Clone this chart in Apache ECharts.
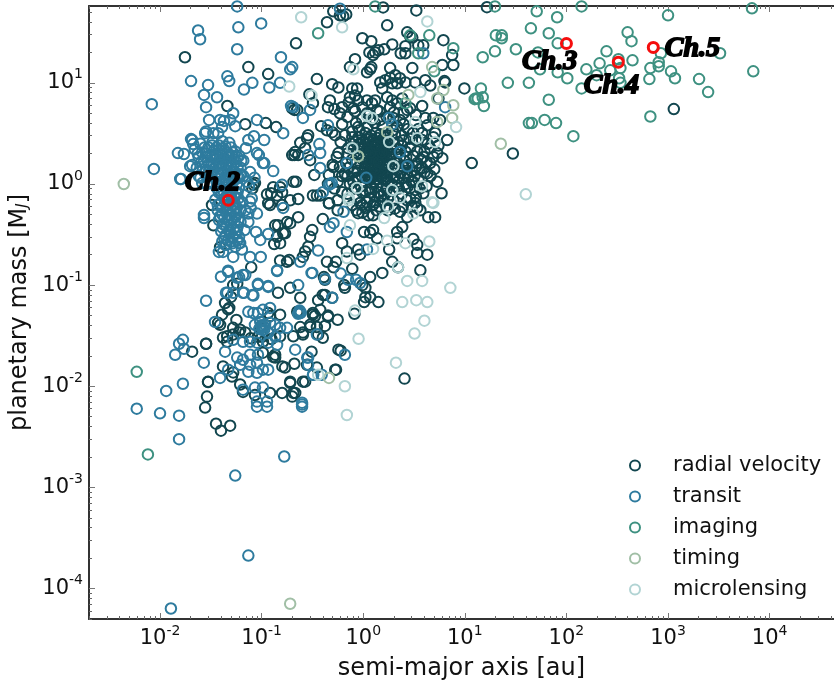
<!DOCTYPE html>
<html>
<head>
<meta charset="utf-8">
<title>Exoplanets by detection method</title>
<script src="https://cdn.jsdelivr.net/npm/echarts@6/dist/echarts.min.js"></script>
<style>
  html, body { margin: 0; padding: 0; background: #fff; }
  #chart { width: 834px; height: 681px; }
</style>
</head>
<body>
<div id="chart"></div>
<script>
// [semi-major axis in au, planetary mass in M_J]
const radialVelocity = [
  [.507,50.9],[.59,46.5],[.68,47.5],[.635,45.5],[.44,39.7],[1.57,55.7],[3.33,52],[1.72,37],[.218,24.6],[.98,27.6],
  [1.2,25.8],[2.71,31.6],[2.9,28.8],[3.04,28],[6.15,26.4],[1.93,24],[2.6,23],[3.9,23.5],[3.48,23.5],[2.34,19.6],
  [2.6,19.6],[1.15,20],[1.31,20],[1.41,21],[1.61,21.5],[1.25,18.8],[.83,17.1],[.74,14.3],[1.09,12.7],[1.17,13.6],
  [1.2,14.3],[1.84,14],[3.04,14],[6,15],[7.7,15],[7.5,18.8],[9.9,8.8],[6.3,10.4],[.35,10.9],[.495,9.7],
  [.57,9],[.295,7.7],[.32,6.3],[.224,5.4],[.2,5.6],[.47,6.7],[.45,5.75],[.52,5.5],[.62,5.75],[.59,5],
  [.21,1.93],[.24,2.55],[.287,3.04],[.28,2.84],[.385,3.73],[.44,3.4],[.495,3.25],[.53,3.04],[.3,1.72],[.268,2.26],
  [.57,2.02],[.33,1.23],[.218,1.05],[.229,.71],[.32,.77],[.35,.77],[.377,.77],[.46,.645],[.56,.69],[.62,.83],
  [.51,1.47],[.46,1.23],[11.7,1.61],[6.7,2.72],[5.9,.81],[5.35,1.05],[4.27,1.28],[5.35,2.02],[4.9,1.85],[.85,4],
  [.78,8.8],[.87,8.8],[.74,7.2],[.83,7.5],[.89,6.7],[.72,6.4],[1.09,6.7],[1.22,6.3],[1.31,6.7],[1.47,10.1],
  [1.65,10.6],[1.84,11.2],[2.07,11.9],[2.3,11.1],[2.6,10.1],[2.16,9.9],[1.93,9.9],[1.54,8.8],[1.72,7.2],[1.93,6.7],
  [2.16,6.3],[2.42,7],[3.25,10.1],[4.08,10.6],[4.57,9.4],[3.8,5.9],[5.5,7],[6.4,10.1],[4.08,4.5],[2.71,5.4],
  [1.84,5.75],[1.37,5.4],[1.09,5],[.98,5.75],[.83,5.25],[1.22,4.3],[1.98,4.5],[1.47,4.3],[2.3,4.3],[4.9,4.5],
  [4.27,3.8],[5.7,4.3],[3.8,2.72],[5.1,3.2],[4.57,2.26],[3.9,1.85],[3.4,1.61],[4.57,1.61],[3.8,1.44],[3.11,1.05],
  [2.78,1.17],[2.48,1.47],[2.3,1.28],[1.98,1.17],[1.76,1.05],[2.16,.93],[2.71,.93],[3.25,.87],[3.9,.81],[2.71,.69],
  [1.98,.69],[1.57,.69],[1.31,.66],[1.09,.66],[.93,.65],[.98,.83],[1.17,.83],[1.41,.83],[.8,1.05],[.66,1.28],
  [.59,1.47],[.71,2.26],[.66,3.04],[.78,2.9],[.89,3.65],[1.05,3.2],
  // densest part of the cloud around 1 au
  [1.02,1.3],[1.06,1.6],[1.1,1.9],[1.14,2.3],[1.18,1.45],[1.22,1.75],[1.26,2.05],[1.3,2.5],[1.34,1.25],[1.38,1.6],
  [1.42,1.9],[1.46,2.2],[1.5,2.7],[1.55,1.4],[1.6,1.7],[1.65,2],[1.7,2.4],[1.75,1.3],[1.8,1.55],[1.08,2.75],
  [1.2,3],[1.33,3.2],[1.47,3.1],[1.62,2.9],[1.05,1.15],[1.15,1.1],[1.28,1.05],[1.4,1.12],[1.52,1.18],[1.68,1.12],
  [1.85,1.85],[1.9,2.2],[1.12,1.55],[1.24,1.3],[1.36,2.15],[1.44,1.35],[1.58,2.3],[1.72,1.75],[.98,1.75],[.95,2.2],
  [1,2.6],[1.28,1.75],[1.4,2.5],[1.56,1.55],[1.25,1.55],[1.35,1.85],[1.48,1.7],[1.18,2.6],[1.1,1.25],[1.62,1.28],
  [1.04,1.45],[1.08,1.8],[1.12,2.1],[1.16,1.3],[1.2,1.6],[1.24,1.95],[1.28,2.3],[1.32,1.45],[1.36,1.7],[1.4,2.05],
  [1.44,1.55],[1.48,1.95],[1.52,2.35],[1.56,1.8],[1.6,2.15],[1.64,1.5],[1.68,1.85],[1.72,2.15],[1.76,1.5],[1.8,2],
  [1.1,2.5],[1.15,2.85],[1.25,2.7],[1.38,2.85],[1.55,2.6],[1.66,2.65],[1.78,2.7],[1.06,2.05],[1.02,2.3],[1.14,1.18],
  [1.22,1.15],[1.34,1.12],[1.46,1.22],[1.58,1.12],[1.72,1.18],[1.3,1.4],[1.42,1.65],[1.52,2.05],[1.18,2.05],[1.34,2.35],
  [.74,1],[.8,1.3],[.85,1.6],[.9,1.15],[.78,1.75],[.88,2],[.92,2.5],[.7,1.2],[.68,1.6],[.82,.92],
  [.95,.95],[1.05,.85],[1.2,.9],[1.35,.95],[1.55,.95],[1.7,.88],[1.9,1],[2.05,1.2],[2.2,1.05],[2.35,1.3],
  [2.5,1.15],[2.7,1.3],[1.95,1.4],[2.1,1.6],[2.3,1.85],[2.55,1.7],[2.8,1.55],[3,1.35],[3.2,1.2],[2,2.5],
  [2.15,2.2],[2.4,2.4],[2.6,2.1],[2.9,2.3],[3.1,1.9],[3.4,2.1],[3.7,1.75],[1.75,3],[1.95,3.4],[2.15,3.7],
  [2.4,3],[2.75,3.5],[3.1,3.2],[3.5,3.5],[1.55,3.7],[1.3,4],[1.1,3.7],[.92,3.4],[.78,3.3],[.98,4.4],
  [1.15,4.9],[1.45,5.2],[1.7,4.6],[2,5.1],[2.5,5],[2.9,5.6],[3.3,4.8],[.8,5.6],[.7,4.6],[.62,3.9],
  [.6,2.6],[.55,1.85],[.5,1.55],[.62,1.2],[.56,1.05],[.45,1],[.52,.9],[3.6,.9],[4.2,.95],[4.6,1.2],
  [5,1.4],[4,1.3],[3.3,.75],[2.9,.72],[2.4,.8],[1.85,.78],[1.5,.76],[1.3,.75],[.86,.72],[.78,.62],
  [.7,.8],[1.15,.72],[4.3,2.5],[4.9,2.9],[3.8,3.2],[5.5,2.4],[6,1.8],
  [.88,1.35],[.94,1.6],[.86,1.15],[.97,1.2],[.72,1.45],[.8,2.2],[.84,2.6],[.76,2.5],[.7,2],[.9,2.9],
  [1.6,.8],[1.75,.72],[2,.86],[2.25,.9],[2.6,1],[3,1.05],[3.5,1.1],[2.2,1.4],[2.45,1.5],[2.65,1.85],
  [3.3,1.5],[3.6,1.4],[2.2,2.6],[2.5,2.7],[2.85,2.8],[3.3,2.7],[4,2.1],[4.2,1.65],[2.05,3.1],[2.5,3.9],
  [1.25,.62],[1.45,.6],[1.75,.55],[2.05,.57],[2.45,.6],[3,.6],[3.4,.58],[.86,.55],[.98,.52],[1.35,.55],
  // close-in and low-mass planets
  [.0176,17.9],[.074,14.3],[.116,12.2],[.046,5.9],[.069,3.9],[.11,4],[.139,3.65],[.2,1.93],[.21,5.4],[.083,.98],
  [.13,.93],[.124,.81],[.159,.83],[.113,.79],[.191,.69],[.121,.62],[.206,1.05],[.086,1.02],[.081,.9],[.0325,.62],
  [.152,.93],[.142,.77],[.116,.645],[.159,.62],[.178,.42],[.145,.39],[.17,.325],[.142,.3],[.152,.26],[.0335,.39],
  [.039,.237],[.214,2.07],[.229,1.93],[.136,.39],[.163,.325],[.133,.255],[.079,.15],[.152,.175],[.178,.17],[.187,.177],
  [.229,.47],[.191,.41],[.315,.35],[.3,.3],[.4,.45],[.56,.55],[.46,.645],[.98,.62],[.89,.515],[1.13,.49],
  [1.25,.49],[1.05,.58],[2.3,.53],[2.71,.47],[3.65,.55],[4.37,.47],[5.1,.47],[3.25,.65],[1.72,.6],[.62,.26],
  [1.02,.335],[1.17,.33],[1.25,.35],[1.37,.29],[2.16,.335],[2.42,.375],[2.16,.29],[3.11,.285],[3.4,.25],[3.4,.208],
  [4.27,.2],[1.8,.225],[1.93,.17],[2.2,.15],[3.65,.14],[1.54,.132],[1.17,.12],[.89,.225],[.93,.2],[.69,.215],
  [.78,.145],[.44,.17],[.54,.17],[.51,.15],[.268,.215],[.255,.19],[.287,.24],[.41,.12],[.42,.113],[.65,.1],
  [.66,.094],[.98,.1],[1.05,.094],[1.05,.076],[1.17,.076],[1.41,.068],[1.02,.068],[.82,.052],[.4,.08],[.36,.071],
  [.56,.0455],[.45,.05],[.42,.0395],[.32,.051],[.377,.057],[.335,.0495],[.3,.0405],[.4,.0302],[.255,.0325],[.31,.022],
  [.28,.0163],[.6,.0225],[.54,.0146],[.35,.0153],[.255,.0111],[.268,.0111],[.191,.0111],[.214,.0086],[.2,.0079],[2.55,.0119],
  [.048,.0595],[.0437,.0665],[.0408,.051],[.0373,.0424],[.0565,.0453],[.0284,.0263],[.0525,.1],[.145,.084],[.191,.094],[.24,.075],
  [.224,.0545],[.42,.08],[.495,.075],[.45,.0485],[.32,.053],[.36,.0325],[.24,.0385],[.255,.034],[.57,.023],[.53,.0146],
  [.191,.0108],[.205,.0086],[.16,.0157],[.17,.0153],[.21,.0167],[.136,.0192],[.0297,.0111],[.051,.0125],[.0525,.0137],[.0417,.0157],
  [.0417,.0303],[.0458,.0275],[.0525,.0378],[.0615,.0362],[.0525,.0325],[.0458,.0312],[.069,.034],[.101,.0308],[.13,.0195],[.152,.0312],
  [.0615,.0104],[.0656,.0088],[.086,.0082],[.121,.0086],[.159,.0086],[.116,.053],[.152,.051],[.121,.0495],[.103,.0275],[.092,.0308],
  [.103,.0215],[.136,.0205],[.205,.0312],[.3,.0385],[.35,.0385],[.05,.0765],[.0468,.0575],[.039,.0405],[.0575,.103],[.116,.034],
  [.097,.0378],[.125,.0293],[.06,.034],[.078,.0298],[.0207,.022],[.0284,.0263],[.029,.0079],[.0278,.00615],[.0297,.011],
  [.0356,.00427],[.049,.00408],[.0398,.00364],[1140,5.5],[29.7,2],[16.5,56]
];

const transit = [
  [.0575,57],[.059,35.4],[.099,38.7],[.0237,33],[.0248,27],[.0575,21.5],[.155,17.9],[.191,13.6],[.0202,10.4],[.0297,9.5],
  [.046,11.6],[.048,10.4],[.081,10],[.067,8.6],[.119,9],[.152,10],[.0271,7.6],[.0364,7.2],[.0284,5.75],[.0083,6.15],
  [.195,5.9],[.0525,5],[.0304,4.3],[.039,4.3],[.0426,4.2],[.049,4.3],[.09,4.3],[.0284,3.3],[.0408,3.65],[.0373,3.18],
  [.055,3.73],[.163,3.18],[.106,2.72],[.084,2.97],[.0202,2.78],[.0212,2.48],[.015,2.02],[.0172,1.98],[.094,1.93],[.106,1.61],
  [.13,1.34],[.0087,1.41],[.0161,1.12],[.0198,1.5],[.074,2.72],[.07,2.26],[.159,.98],[.0278,3.18],[.0335,3.18],[.0207,2.72],
  [.0207,1.54],[.0158,1.12],[.077,1.31],[.09,2.02],[.103,1.61],
  // hot Jupiter clump
  [.022,2.2],[.024,1.85],[.023,1.45],[.025,1.15],[.026,2.05],[.027,1.65],[.0275,1.3],[.029,1],[.03,2.3],[.031,1.9],
  [.03,1.55],[.032,1.2],[.034,2.15],[.035,1.75],[.034,1.4],[.036,1.05],[.038,2.4],[.039,2],[.038,1.6],[.04,1.25],
  [.042,2.25],[.043,1.8],[.042,1.45],[.044,1.1],[.046,2.05],[.047,1.7],[.046,1.35],[.048,1.02],[.05,2.3],[.051,1.9],
  [.05,1.5],[.052,1.2],[.055,2.1],[.056,1.65],[.055,1.3],[.057,1],[.06,1.9],[.062,1.45],[.06,1.15],[.066,1.7],
  [.066,1.2],[.025,2.5],[.033,2.6],[.041,2.65],[.048,2.55],[.028,1.85],[.037,1.3],[.045,1.55],[.053,1.75],[.024,1.2],
  [.0235,2],[.0255,1.65],[.0265,1.4],[.0275,2.3],[.0285,2],[.0295,1.7],[.0305,1.35],[.0315,1.05],[.0325,2.4],[.033,1.95],
  [.0325,1.6],[.0345,1.2],[.036,2.3],[.0365,1.85],[.0355,1.5],[.0375,1.12],[.04,2.15],[.041,1.75],[.04,1.4],[.0425,1.02],
  [.044,2.35],[.045,1.95],[.0445,1.6],[.0455,1.22],[.048,1.85],[.049,1.5],[.048,1.2],[.0505,1.05],[.052,2.05],[.053,1.55],
  [.0525,1.3],[.0545,1.1],[.0575,1.85],[.058,1.45],[.0575,1.2],[.063,1.25],[.063,1.7],[.026,1.02],[.0345,1.85],[.0395,1.55],
  [.036,.92],[.04,.8],[.044,.92],[.048,.85],[.052,.9],[.056,.82],[.06,.92],[.035,.7],[.039,.64],[.043,.72],
  [.047,.62],[.051,.7],[.055,.63],[.059,.72],[.064,.66],[.037,.55],[.041,.5],[.045,.56],[.049,.49],[.053,.54],
  [.057,.5],[.062,.55],[.038,.44],[.042,.4],[.046,.44],[.05,.39],[.054,.42],[.058,.38],[.062,.42],[.04,.34],
  [.044,.31],[.048,.35],[.052,.3],[.056,.33],[.06,.3],[.041,.27],[.045,.25],[.05,.27],[.055,.24],[.06,.26],
  [.038,.82],[.042,.85],[.046,.78],[.05,.8],[.054,.74],[.058,.83],[.037,.62],[.041,.58],[.045,.66],[.049,.58],
  [.053,.62],[.057,.58],[.061,.64],[.039,.48],[.043,.46],[.047,.5],[.051,.45],[.055,.47],[.059,.44],[.041,.37],
  [.045,.38],[.049,.33],[.053,.36],[.057,.35],[.043,.29],[.047,.28],[.052,.26],[.058,.28],
  [.075,.95],[.08,.72],[.069,.55],[.074,.42],[.068,.35],[.072,1.05],[.085,1.15],[.078,.58],
  [.0271,.494],[.0271,.461],[.038,.213],[.0468,.139],[.06,.12],[.069,.126],[.077,.19],[.098,.19],[.142,.14],[.092,.1],
  [.116,.098],[.067,.084],[.083,.079],[.046,.084],[.077,.67],[.074,.51],[.09,.51],[.088,.335],[.097,.28],[.116,.32],
  [.0437,.25],[.0615,.26],[.064,.225],[.0417,.213],[.0525,.19],
  // low-mass clump
  [.0398,.121],[.0284,.07],[.0468,.135],[.0575,.118],[.0656,.126],[.0446,.084],[.0525,.084],[.0656,.084],[.081,.08],[.092,.103],
  [.116,.096],[.229,.1],[.142,.138],[.315,.132],[.074,.0545],[.083,.053],[.092,.053],[.103,.057],[.121,.0595],[.0348,.0433],
  [.097,.0433],[.086,.0405],[.108,.0405],[.121,.0424],[.136,.0405],[.101,.0378],[.116,.0338],[.136,.0308],[.152,.0378],[.178,.0378],
  [.234,.0545],[.24,.053],[.237,.056],[.243,.0535],[.229,.052],[.0656,.0275],[.077,.0275],[.09,.027],[.0525,.0288],[.116,.027],
  [.142,.0257],[.214,.023],[.0437,.022],[.0575,.0192],[.0656,.0183],[.077,.0205],[.092,.0205],[.0615,.0163],[.077,.0163],[.09,.0171],
  [.103,.0146],[.074,.0139],[.09,.0136],[.116,.0146],[.039,.0121],[.027,.0171],[.0468,.0146],[.0656,.00925],[.086,.0097],[.103,.0097],
  [.09,.00705],[.09,.00629],[.113,.00705],[.113,.00629],[.25,.00689],[.25,.00629],[.281,.0192],[.287,.0163],[.322,.013],[.099,.04],
  [.102,.036],[.095,.037],[.105,.039],[.1,.0385],[.106,.0365],
  [.0168,.0288],[.0154,.0263],[.0172,.0235],[.0141,.0205],[.0168,.0106],[.0115,.009],[.0059,.006],[.01,.0054],[.0154,.00512],[.0154,.003],
  [.055,.00131],[.167,.00202],[.074,.000212],[.0128,.0000635],
  [.64,.53],[.51,.41],[.47,.375],[.69,.335],[.36,.22],[.24,.17],[.31,.132],[.42,.115],[.6,.13],[.71,.113],
  [.85,.113],[.495,.075],[1.09,.225],[.66,.0205],[.32,.013],[.39,.013],[.25,.0066],[.35,.0325],[.287,.0192],[.93,.105],
  [.59,54],[3.9,19.6],[.2,14.3],[.205,5.75],[.255,4.5],[.3,5.4],[.45,3.8],[6.4,5.75],[1.8,4.5],[1.93,3.9],
  [2.3,2.07],[2.71,1.5],[.69,1.61],[1.07,1.15],[.37,2.48],[.287,1.93],[.377,2.02],[.377,1.44],[.47,1],[.46,.98],
  [.49,1.02],[.4,.83],[.163,.58]
];

const imaging = [
  [51,50.9],[81,44.5],[141,57],[1000,46.5],[6700,54.5],[44.7,34.6],[67,30.9],[20.2,29.5],[23.1,29.5],[23.1,27.6],
  [82,24.6],[400,31.6],[437,25.8],[248,20.5],[19.8,20.5],[31.8,21.5],[15,17.9],[52.5,20],[850,19.6],[3250,19.6],
  [212,15.6],[447,16.7],[325,17.1],[810,16],[810,14.6],[670,14],[157,13.6],[55,13.6],[82,12.7],[340,14],
  [270,13.3],[1070,13],[6900,13],[1170,11.1],[102,11.1],[655,10.9],[2020,10.9],[330,11.1],[340,10],[141,8.8],
  [198,11.9],[26.5,10],[42.7,10],[14.4,8.8],[2480,8.1],[15,7.2],[13.4,7],[12.5,6.9],[67,6.8],[15.4,5.9],
  [670,4.65],[61,4.3],[42.7,4],[45.7,4],[79,4],[117,2.97],[.36,30.9],[4.47,29.5],[2.9,29.5],[7.7,22],
  [3.48,19.6],[1.31,57],[5,13],[2.6,6.3],[12.8,7],[19.8,57],[.0076,.00212],[.0059,.0139]
];

const timing = [
  [.0044,1],[.191,.0000707],[.46,.0121],[1.72,3.25],[4.77,14.3],[2.78,7.6],[6.15,8.5],[5.35,7],[7.7,6],[7.5,4.5],
  [5.35,4.1],[.89,1.88],[22.6,2.5]
];

const microlensing = [
  [.187,9.2],[.245,44.5],[.62,35.4],[4.27,40.5],[.8,13.6],[.31,7.5],[3.65,8.1],[1.09,4.7],[1.22,4.5],[3.25,4.1],
  [3.4,2.84],[1.8,2.6],[8.2,3.65],[.78,2.26],[1.98,1.5],[5.1,2.6],[.87,.91],[.72,.73],[1.93,.87],[2.3,.73],
  [3.8,.95],[4.77,.66],[1.76,.6],[.72,.69],[1.61,.46],[.74,.39],[1.25,.228],[.69,.185],[1.72,.275],[2.6,.26],
  [4.47,.27],[2.2,.15],[2.71,.11],[3.8,.11],[7.2,.094],[2.42,.068],[3.33,.071],[4.27,.068],[4,.0445],[3.2,.0332],
  [.83,.056],[.9,.0295],[2.1,.0171],[.66,.01],[.69,.0052],[4.9,.65],[3.11,.51],[.36,.013],[39.8,.79]
];

// planets discussed in the later chapters
const chapterNames = ['Ch.2', 'Ch.3', 'Ch.4', 'Ch.5'];
const chapterPlanets = [[.047,.69],[100,24.5],[324,16],[716,22.4]];
const chapterLabelOffsets = [[-37,-25],[-38,11],[-28,16],[18,-6]];

const xDecades = [-2, -1, 0, 1, 2, 3, 4];
const yDecades = [-4, -3, -2, -1, 0, 1];

const methods = [
  { name: 'radial velocity', data: radialVelocity, color: '#12464f' },
  { name: 'transit', data: transit, color: '#2e7b9e' },
  { name: 'imaging', data: imaging, color: '#3e9181' },
  { name: 'timing', data: timing, color: '#a1bfa6' },
  { name: 'microlensing', data: microlensing, color: '#b2d4d4' }
];

const fontFamily = 'DejaVu Sans';
const xRange = { min: 0.002, max: 43000 };
const yRange = { min: 0.00005, max: 57.5 };

function minorValues(decades) {
  const values = [];
  // one extra decade below, the range starts inside it
  [decades[0] - 1, ...decades].forEach(d => {
    for (let i = 2; i < 10; i++) values.push(i * Math.pow(10, d));
  });
  return values;
}

function powerLabel(value) {
  return '{base|10}{power|' + Math.round(Math.log10(value)) + '}';
}

const tickLabelStyle = {
  color: '#111',
  formatter: powerLabel,
  rich: {
    base: { fontFamily: fontFamily, fontSize: 21, color: '#111' },
    power: { fontFamily: fontFamily, fontSize: 14, color: '#111', padding: [0, 0, 16, 0] }
  }
};

// log axes only put ticks where we ask, so each side gets one axis for the
// decades and a second one for the short ticks in between
function logAxis(range, position, decades, minor, extra) {
  const majors = decades.map(d => Math.pow(10, d));
  return Object.assign({
    type: 'log',
    logBase: 10,
    min: range.min,
    max: range.max,
    position: position,
    splitLine: { show: false },
    minorTick: { show: false },
    axisLine: { show: !minor, onZero: false, lineStyle: { color: '#333', width: 2 } },
    axisTick: {
      show: true,
      inside: true,
      length: minor ? 3 : 6,
      customValues: minor ? minorValues(decades) : majors,
      lineStyle: { color: minor ? '#666' : '#777', width: 1 }
    },
    axisLabel: { show: false }
  }, extra || {});
}

const option = {
  animation: false,
  backgroundColor: '#fff',
  textStyle: { fontFamily: fontFamily },
  // v6 would otherwise shrink the grid to keep the axis names inside
  grid: { left: 89, right: 0, top: 6, bottom: 62, containLabel: false, outerBoundsMode: 'none' },
  xAxis: [
    logAxis(xRange, 'bottom', xDecades, false, {
      name: 'semi-major axis [au]',
      nameLocation: 'middle',
      nameGap: 38,
      nameTextStyle: { fontSize: 24, color: '#111', fontFamily: fontFamily },
      axisLabel: Object.assign({ show: true, margin: 5, customValues: xDecades.map(d => Math.pow(10, d)) }, tickLabelStyle)
    }),
    logAxis(xRange, 'bottom', xDecades, true),
    logAxis(xRange, 'top', xDecades, false),
    logAxis(xRange, 'top', xDecades, true)
  ],
  yAxis: [
    logAxis(yRange, 'left', yDecades, false, {
      name: 'planetary mass [M{sub|J}]',
      nameLocation: 'middle',
      nameGap: 56,
      nameTextStyle: {
        fontSize: 24,
        color: '#111',
        fontFamily: fontFamily,
        rich: { sub: { fontSize: 15, fontStyle: 'italic', fontFamily: fontFamily, color: '#111', padding: [8, 0, 0, 0] } }
      },
      axisLabel: Object.assign({ show: true, margin: 6, customValues: yDecades.map(d => Math.pow(10, d)) }, tickLabelStyle)
    }),
    logAxis(yRange, 'left', yDecades, true)
  ],
  legend: {
    left: 624,
    top: 450,
    orient: 'vertical',
    icon: 'circle',
    itemWidth: 66,
    itemHeight: 10,
    itemGap: 10,
    selectedMode: false,
    textStyle: { fontSize: 21, color: '#111', fontFamily: fontFamily },
    data: methods.map(m => m.name)
  },
  series: methods.map(m => ({
    type: 'scatter',
    name: m.name,
    data: m.data,
    symbol: 'circle',
    symbolSize: 10.5,
    itemStyle: { color: 'rgba(0,0,0,0)', borderColor: m.color, borderWidth: 2, opacity: 1 }
  })).concat([{
    type: 'scatter',
    name: 'chapters',
    symbol: 'circle',
    symbolSize: 10,
    z: 5,
    itemStyle: { color: 'rgba(0,0,0,0)', borderColor: '#f50d0d', borderWidth: 3, opacity: 1 },
    data: chapterPlanets.map((p, i) => ({
      name: chapterNames[i],
      value: p,
      label: {
        show: true,
        position: chapterLabelOffsets[i],
        formatter: chapterNames[i],
        fontFamily: 'Liberation Serif',
        fontStyle: 'italic',
        fontWeight: 'bold',
        fontSize: 28,
        color: '#000',
        textBorderColor: '#000',
        textBorderWidth: 1.8
      }
    }))
  }])
};

const chart = echarts.init(document.getElementById('chart'), null, { renderer: 'canvas' });
chart.setOption(option);
</script>
</body>
</html>
